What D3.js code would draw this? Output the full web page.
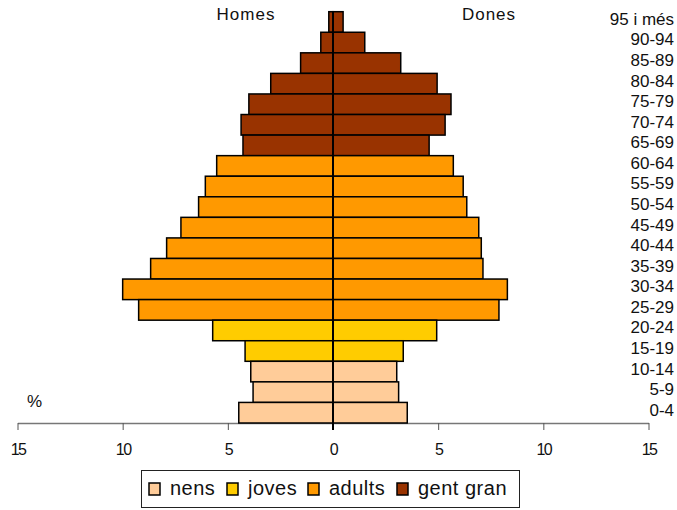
<!DOCTYPE html>
<html>
<head>
<meta charset="utf-8">
<script src="https://cdn.jsdelivr.net/npm/d3@7"></script>
<style>
  body { margin: 0; background: #fff; }
  text { font-family: "Liberation Sans", Arial, sans-serif; fill: #111; }
</style>
</head>
<body>
<div class="chart"></div>
<script>
// age groups, top to bottom
const ages = ["95 i més", "90-94", "85-89", "80-84", "75-79", "70-74", "65-69", "60-64",
              "55-59", "50-54", "45-49", "40-44", "35-39", "30-34", "25-29", "20-24",
              "15-19", "10-14", "5-9", "0-4"];
// % of population
const homes = [0.2, 0.58, 1.54, 2.96, 4.0, 4.37, 4.28, 5.53,
               6.07, 6.39, 7.23, 7.91, 8.67, 10.0, 9.24, 5.72,
               4.18, 3.91, 3.8, 4.48];
const dones = [0.48, 1.51, 3.22, 4.95, 5.61, 5.33, 4.57, 5.72,
               6.19, 6.36, 6.93, 7.05, 7.13, 8.29, 7.89, 4.93,
               3.34, 3.03, 3.12, 3.53];
const groupOf = ["gent gran", "gent gran", "gent gran", "gent gran", "gent gran", "gent gran", "gent gran", "adults",
                 "adults", "adults", "adults", "adults", "adults", "adults", "adults", "joves",
                 "joves", "nens", "nens", "nens"];
const groups = ["nens", "joves", "adults", "gent gran"];
const groupColors = ["#FFCC99", "#FFCC00", "#FF9900", "#993300"];
const tickVals = [-15, -10, -5, 0, 5, 10, 15];

const width = 677, height = 510;

const svg = d3.select(".chart").append("svg")
    .attr("width", width)
    .attr("height", height);

const x = d3.scaleLinear().domain([-15, 15]).range([17.5, 648.5]);
const y = d3.scaleBand().domain(ages).range([11.7, 423]).padding(0);
const color = d3.scaleOrdinal().domain(groups).range(groupColors);

const rows = ages.map((a, i) => ({age: a, h: homes[i], d: dones[i], g: groupOf[i]}));

// axis
const xAxis = d3.axisBottom(x)
    .tickValues(tickVals)
    .tickFormat(d => Math.abs(d))
    .tickSize(7)
    .tickSizeOuter(0);

svg.append("g")
    .attr("transform", `translate(0, ${y.range()[1]})`)
    .call(xAxis)
    .call(g => g.select(".domain").attr("stroke", "#777").attr("stroke-width", 1.3))
    .call(g => g.selectAll(".tick line").attr("stroke", "#555"))
    .call(g => g.selectAll(".tick text")
        .attr("dy", "1.4em")
        .attr("font-size", 16)
        .attr("letter-spacing", "-1.6px")
        .attr("font-family", "Liberation Sans, Arial, sans-serif")
        .attr("fill", "#111"));

// bars - homes on the left
svg.selectAll(".homes")
    .data(rows)
    .join("rect")
    .attr("class", "homes")
    .attr("x", d => x(-d.h))
    .attr("y", d => y(d.age))
    .attr("width", d => x(0) - x(-d.h))
    .attr("height", y.bandwidth())
    .attr("fill", d => color(d.g))
    .attr("stroke", "#000")
    .attr("stroke-width", 1.5);

// bars - dones on the right
svg.selectAll(".dones")
    .data(rows)
    .join("rect")
    .attr("class", "dones")
    .attr("x", x(0))
    .attr("y", d => y(d.age))
    .attr("width", d => x(d.d) - x(0))
    .attr("height", y.bandwidth())
    .attr("fill", d => color(d.g))
    .attr("stroke", "#000")
    .attr("stroke-width", 1.5);

// zero line
svg.append("line")
    .attr("x1", x(0)).attr("x2", x(0))
    .attr("y1", y.range()[0]).attr("y2", y.range()[1] + 7)
    .attr("stroke", "#000")
    .attr("stroke-width", 2);

// age labels
svg.selectAll(".age")
    .data(rows)
    .join("text")
    .attr("class", "age")
    .attr("x", 674)
    .attr("y", d => y(d.age) + y.bandwidth() / 2 - 3)
    .attr("dy", "0.35em")
    .attr("text-anchor", "end")
    .attr("font-size", 17)
    .text(d => d.age);

// titles
svg.append("text")
    .attr("x", 246).attr("y", 20)
    .attr("text-anchor", "middle")
    .attr("font-size", 17)
    .attr("letter-spacing", "1px")
    .text("Homes");

svg.append("text")
    .attr("x", 489).attr("y", 20)
    .attr("text-anchor", "middle")
    .attr("font-size", 17)
    .attr("letter-spacing", "1px")
    .text("Dones");

svg.append("text")
    .attr("x", 27).attr("y", 407)
    .attr("font-size", 17)
    .text("%");

// legend
const legend = svg.append("g");
legend.append("rect")
    .attr("x", 141.5).attr("y", 470.5)
    .attr("width", 378).attr("height", 37)
    .attr("fill", "#fff")
    .attr("stroke", "#222")
    .attr("stroke-width", 1);

const legendX = [149, 227, 308, 397];
const item = legend.selectAll(".item")
    .data(groups)
    .join("g")
    .attr("class", "item")
    .attr("transform", (d, i) => `translate(${legendX[i]}, 483)`);

item.append("rect")
    .attr("width", 11).attr("height", 12)
    .attr("fill", d => color(d))
    .attr("stroke", "#000")
    .attr("stroke-width", 1.5);

item.append("text")
    .attr("x", 21).attr("y", 12)
    .attr("font-size", 20)
    .attr("letter-spacing", "0.5px")
    .text(d => d);
</script>
</body>
</html>
